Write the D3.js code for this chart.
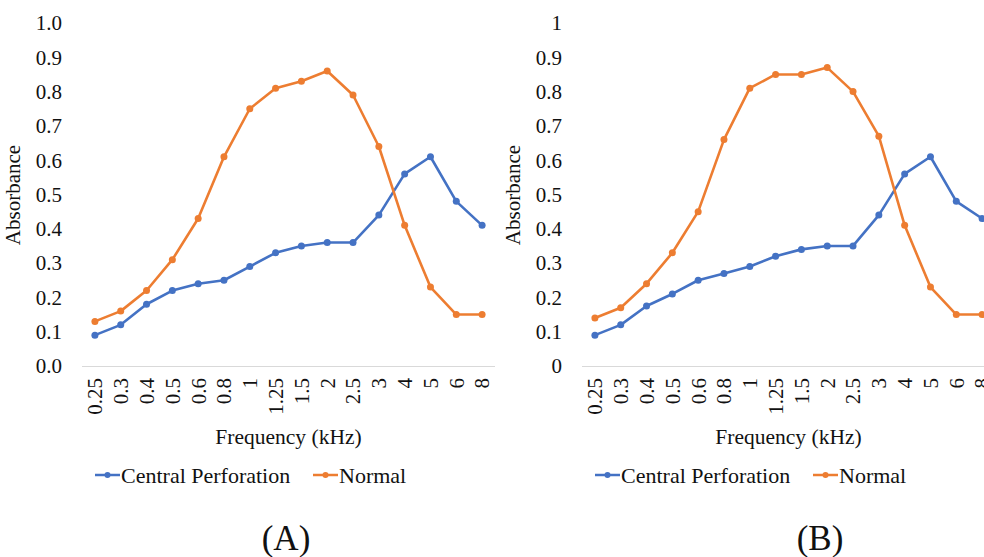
<!DOCTYPE html>
<html>
<head>
<meta charset="utf-8">
<script src="https://cdn.jsdelivr.net/npm/d3@7"></script>
<style>
  body { margin: 0; background: #fff; }
  svg text { font-family: "Liberation Serif", "Times New Roman", Tinos, "DejaVu Serif", serif; }
</style>
</head>
<body>
<svg id="chart" width="984" height="557"></svg>
<script>
// frequencies (kHz) on the x axis
const freqs = ["0.25", "0.3", "0.4", "0.5", "0.6", "0.8", "1", "1.25", "1.5", "2", "2.5", "3", "4", "5", "6", "8"];

// panel A
const perfA = [0.09, 0.12, 0.18, 0.22, 0.24, 0.25, 0.29, 0.33, 0.35, 0.36, 0.36, 0.44, 0.56, 0.61, 0.48, 0.41];
const normA = [0.13, 0.16, 0.22, 0.31, 0.43, 0.61, 0.75, 0.81, 0.83, 0.86, 0.79, 0.64, 0.41, 0.23, 0.15, 0.15];

// panel B
const perfB = [0.09, 0.12, 0.175, 0.21, 0.25, 0.27, 0.29, 0.32, 0.34, 0.35, 0.35, 0.44, 0.56, 0.61, 0.48, 0.43];
const normB = [0.14, 0.17, 0.24, 0.33, 0.45, 0.66, 0.81, 0.85, 0.85, 0.87, 0.80, 0.67, 0.41, 0.23, 0.15, 0.15];

const yTicks = [0, 0.1, 0.2, 0.3, 0.4, 0.5, 0.6, 0.7, 0.8, 0.9, 1];
const seriesNames = ["Central Perforation", "Normal"];
const colors = ["#4472C4", "#ED7D31"];
const ink = "#111";

const svg = d3.select("#chart");

function drawPanel(opts) {
  const g = svg.append("g").attr("transform", `translate(${opts.x0},0)`);
  const width = 413;
  const x = d3.scaleBand().domain(freqs).range([0, width]);
  const y = d3.scaleLinear().domain([0, 1]).range([366, 23]);

  // y tick labels (no axis line in the original)
  g.selectAll(".ytick")
    .data(yTicks)
    .join("text")
    .attr("x", -20)
    .attr("y", (d) => y(d))
    .attr("dy", "0.35em")
    .attr("text-anchor", "end")
    .attr("font-size", 21)
    .attr("fill", ink)
    .text(opts.yFormat);

  // x axis line
  g.append("line")
    .attr("x1", 0)
    .attr("x2", width)
    .attr("y1", y(0) + 0.5)
    .attr("y2", y(0) + 0.5)
    .attr("stroke", "#d9d9d9")
    .attr("stroke-width", 1);

  // rotated x tick labels
  g.selectAll(".xtick")
    .data(freqs)
    .join("text")
    .attr("transform", (d) => `translate(${x(d) + x.bandwidth() / 2},${y(0) + 12}) rotate(-90)`)
    .attr("text-anchor", "end")
    .attr("dy", "0.35em")
    .attr("font-size", 21)
    .attr("fill", ink)
    .text((d) => d);

  // axis titles
  g.append("text")
    .attr("transform", `translate(${opts.yTitleX - opts.x0},195) rotate(-90)`)
    .attr("text-anchor", "middle")
    .attr("font-size", 21)
    .attr("fill", ink)
    .text("Absorbance");

  g.append("text")
    .attr("x", width / 2)
    .attr("y", 444)
    .attr("text-anchor", "middle")
    .attr("font-size", 21.5)
    .attr("fill", ink)
    .text("Frequency (kHz)");

  const line = d3.line()
    .x((d, i) => x(freqs[i]) + x.bandwidth() / 2)
    .y((d) => y(d));

  opts.series.forEach((vals, k) => {
    g.append("path")
      .datum(vals)
      .attr("d", line)
      .attr("fill", "none")
      .attr("stroke", colors[k])
      .attr("stroke-width", 2.6)
      .attr("stroke-linejoin", "round");
    g.selectAll(".pt" + k)
      .data(vals)
      .join("circle")
      .attr("cx", (d, i) => x(freqs[i]) + x.bandwidth() / 2)
      .attr("cy", (d) => y(d))
      .attr("r", 3.5)
      .attr("fill", colors[k]);
  });

  // legend
  const legendX = [13, 231];
  seriesNames.forEach((name, k) => {
    const lg = g.append("g").attr("transform", `translate(${legendX[k]},475)`);
    lg.append("line")
      .attr("x1", 0).attr("x2", 25)
      .attr("stroke", colors[k]).attr("stroke-width", 2.5);
    lg.append("circle").attr("cx", 12.5).attr("r", 3).attr("fill", colors[k]);
    lg.append("text")
      .attr("x", 26)
      .attr("dy", "0.35em")
      .attr("font-size", 22)
      .attr("fill", ink)
      .text(name);
  });

  // panel label
  svg.append("text")
    .attr("x", opts.labelX)
    .attr("y", 550)
    .attr("text-anchor", "middle")
    .attr("font-size", 35)
    .attr("fill", ink)
    .text(opts.label);
}

drawPanel({
  x0: 82, yTitleX: 20, series: [perfA, normA], label: "(A)", labelX: 286,
  yFormat: d3.format(".1f")
});
drawPanel({
  x0: 582, yTitleX: 520, series: [perfB, normB], label: "(B)", labelX: 820,
  yFormat: (d) => d3.format("~g")(d)
});
</script>
</body>
</html>
